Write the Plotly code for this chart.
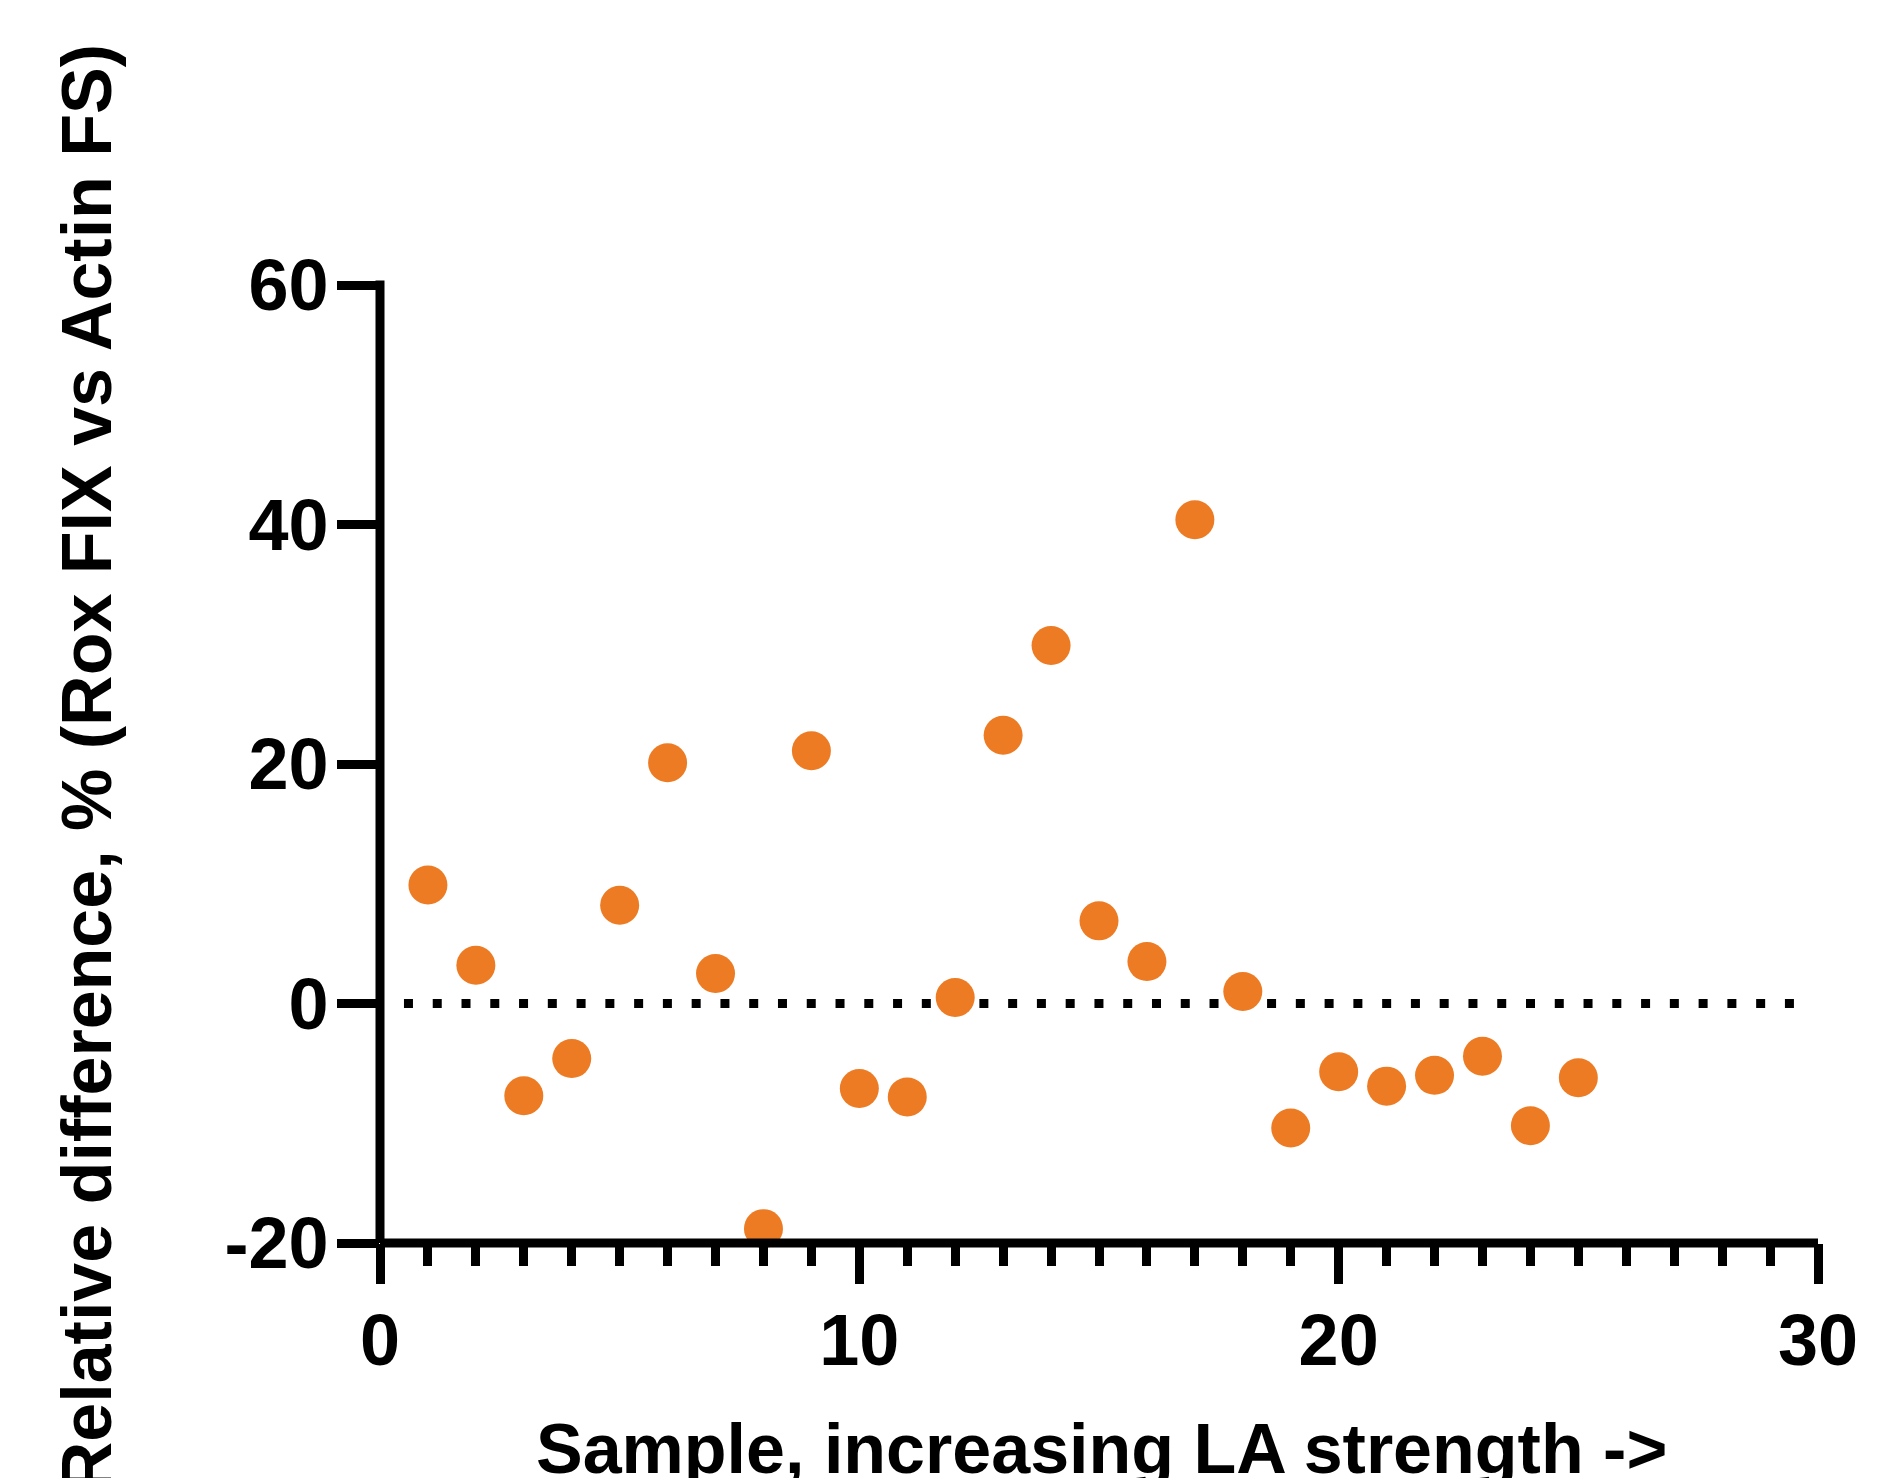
import plotly.graph_objects as go

# ---- data ----
sample = list(range(1, 26))
rel_diff = [9.9, 3.2, -7.7, -4.6, 8.2, 20.1, 2.5, -18.8, 21.1, -7.1,
            -7.8, 0.5, 22.4, 29.9, 6.9, 3.5, 40.4, 1.0, -10.4, -5.7,
            -6.9, -6.0, -4.4, -10.2, -6.2]
x_ticks = [0, 10, 20, 30]
y_ticks = [-20, 0, 20, 40, 60]
ref_line_y = 0
x_title = "Sample, increasing LA strength ->"
y_title = "Relative difference, % (Rox FIX vs Actin FS)"

FONT = "Liberation Sans, Arial, sans-serif"
ORANGE = "rgb(237,123,35)"

fig = go.Figure()
fig.add_trace(go.Scatter(
    x=sample, y=rel_diff, mode="markers",
    marker=dict(size=39, color=ORANGE, line=dict(width=0)),
    cliponaxis=False, showlegend=False,
))

# dotted reference line at y = 0
fig.add_shape(type="line", xref="x", yref="y",
              x0=0.5, x1=29.5, y0=ref_line_y, y1=ref_line_y,
              line=dict(color="black", width=9, dash="9px,19.77px"),
              layer="below")

# axis lines
fig.add_shape(type="line", xref="paper", yref="paper", x0=0, x1=0, y0=0, y1=1.0047,
              line=dict(color="black", width=9), layer="above")
fig.add_shape(type="line", xref="paper", yref="paper", x0=0, x1=1, y0=0, y1=0,
              line=dict(color="black", width=9), layer="above")

tickfont = dict(family=FONT, size=72, color="black", weight="bold")

fig.update_xaxes(
    range=[0, 30], tickvals=x_ticks, ticktext=[str(v) for v in x_ticks],
    ticks="outside", ticklen=40, tickwidth=9, tickcolor="black",
    minor=dict(dtick=1, tick0=0, ticks="outside", ticklen=22, tickwidth=9, tickcolor="black"),
    showline=False, showgrid=False, zeroline=False,
    tickfont=tickfont, ticklabelstandoff=-5,
)
fig.update_yaxes(
    range=[-20, 60], tickvals=y_ticks, ticktext=[str(v) for v in y_ticks],
    ticks="outside", ticklen=42, tickwidth=9, tickcolor="black",
    showline=False, showgrid=False, zeroline=False,
    tickfont=tickfont, ticklabelstandoff=-6,
)

titlefont = dict(family=FONT, size=70, color="black", weight="bold")
fig.add_annotation(text=x_title, xref="paper", yref="paper",
                   x=0.5015, y=-0.1722, xanchor="center", yanchor="top",
                   showarrow=False, font=titlefont)
fig.add_annotation(text=y_title, xref="paper", yref="paper", textangle=-90,
                   x=-0.204, y=1.253, xanchor="center", yanchor="top",
                   showarrow=False, font=titlefont)

fig.update_layout(
    width=1878, height=1478,
    margin=dict(l=372, r=68, t=277, b=243, pad=0),
    paper_bgcolor="white", plot_bgcolor="white",
    showlegend=False,
)

fig.write_html("out.html")
